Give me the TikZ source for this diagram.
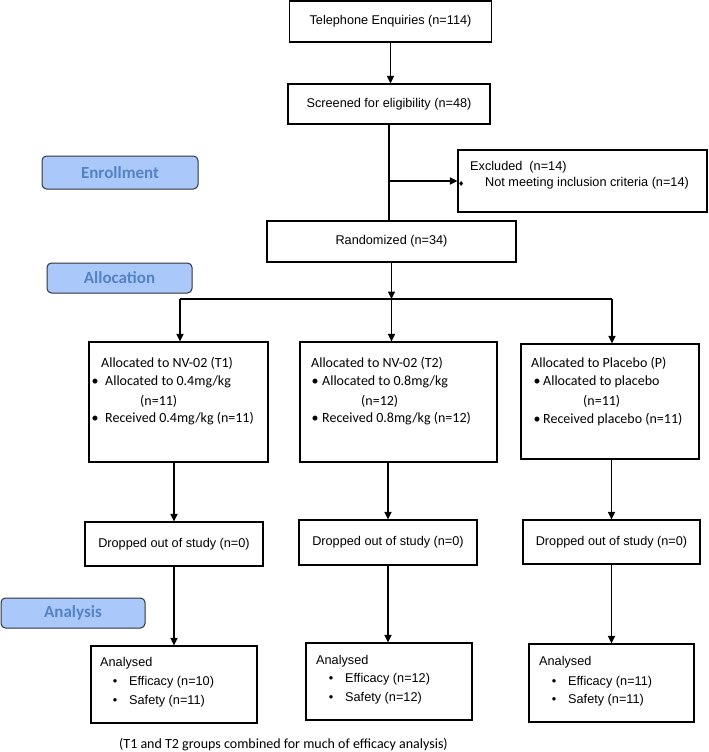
\documentclass[tikz,border=0pt]{standalone}
\usepackage{fontspec}
\setmainfont{Liberation Sans}
\newfontfamily\calfont{Carlito}
\newfontfamily\djfont{DejaVu Sans}
\usetikzlibrary{arrows.meta}
\definecolor{lblfill}{RGB}{170,201,250}
\definecolor{lbltext}{RGB}{84,131,196}
\definecolor{lbldraw}{RGB}{45,50,60}
\newcommand\bu[1]{\llap{\makebox[0pt]{\textbullet}\hspace{#1}}}
\newcommand\dm[1]{\llap{\makebox[0pt]{\djfont\fontsize{7}{7}\selectfont ♦}\hspace{#1}}}
\begin{document}
\begin{tikzpicture}[x=1pt,y=-1pt,
  box/.style={draw, line width=1.1pt, inner sep=0pt, font=\fontsize{12.7}{15}\selectfont},
  arr/.style={line width=1.1pt, -{Triangle[length=7.5pt,width=7pt]}},
  ln/.style={line width=1.1pt},
  ar/.style={font=\fontsize{12.7}{15}\selectfont, inner sep=0pt, anchor=west},
  ca/.style={font=\calfont\fontsize{14}{17}\selectfont, inner sep=0pt, anchor=west},
  stage/.style={draw=lbldraw, fill=lblfill, rounded corners=4.5pt, line width=1pt,
    font=\calfont\bfseries\fontsize{17}{20}\selectfont, text=lbltext, inner sep=0pt}]
\useasboundingbox (0,0) rectangle (709,752);

% stage labels
\node[stage, minimum width=156pt, minimum height=33pt] (en) at (120,172.5) {Enrollment};
\node[stage, minimum width=145pt, minimum height=30pt] (al) at (119.5,278) {Allocation};
\node[stage, minimum width=144pt, minimum height=30pt] (an) at (73,613) {Analysis};

% top chain
\node[box, minimum width=202pt, minimum height=41pt] (tel) at (390.5,21.5) {Telephone Enquiries (n=114)};
\node[box, minimum width=202pt, minimum height=40pt] (scr) at (389,104) {Screened for eligibility (n=48)};
\node[box, minimum width=249pt, minimum height=62pt] (excl) at (582.5,181) {};
\node[box, minimum width=249pt, minimum height=41pt] (rand) at (391.5,241.5) {Randomized (n=34)};

\node[ar] (ex1) at (470,167) {Excluded~~(n=14)};
\node[ar] (ex2) at (485,183) {\dm{24pt}Not meeting inclusion criteria (n=14)};

\draw[arr] (tel.south) -- (tel.south |- scr.north);
\draw[ln] (scr.south) -- (scr.south |- rand.north);
\coordinate (br) at (scr.south |- excl.west);
\draw[arr] (br) -- (excl.west);

% allocation
\node[box, minimum width=179pt, minimum height=120pt] (t1) at (178.5,402) {};
\node[box, minimum width=197pt, minimum height=120pt] (t2) at (398.5,402) {};
\node[box, minimum width=178pt, minimum height=115pt] (p) at (610,401.5) {};

\coordinate (hub) at (391.5,299);
\coordinate (hl) at (180,299);
\coordinate (hr) at (612,299);
\coordinate (tk1) at (374,299);
\coordinate (tk2) at (416,299);
\draw[ln] (hl) -- (hr);
\draw[line width=2.2pt] (tk1) -- (tk2);
\draw[arr] (rand.south) -- (hub);
\draw[arr] (hl) -- (hl |- t1.north);
\draw[arr] (hub) -- (hub |- t2.north);
\draw[arr] (hr) -- (hr |- p.north);

\node[ca] (t1a) at (101,363) {Allocated to NV-02 (T1)};
\node[ca] (t1b) at (105,382) {\bu{10pt}Allocated to 0.4mg/kg};
\node[ca] (t1c) at (140,401) {(n=11)};
\node[ca] (t1d) at (105,419) {\bu{10pt}Received 0.4mg/kg (n=11)};

\node[ca] (t2a) at (311,363) {Allocated to NV-02 (T2)};
\node[ca] (t2b) at (322,382) {\bu{7pt}Allocated to 0.8mg/kg};
\node[ca] (t2c) at (361,401) {(n=12)};
\node[ca] (t2d) at (322,419) {\bu{7pt}Received 0.8mg/kg (n=12)};

\node[ca] (pa) at (531,363) {Allocated to Placebo (P)};
\node[ca] (pb) at (543,382) {\bu{6pt}Allocated to placebo};
\node[ca] (pc) at (583,401) {(n=11)};
\node[ca] (pd) at (543,420) {\bu{6pt}Received placebo (n=11)};

% dropped
\node[box, minimum width=178pt, minimum height=44pt] (d1) at (174,544) {Dropped out of study (n=0)};
\node[box, minimum width=178pt, minimum height=45pt] (d2) at (388,542.5) {Dropped out of study (n=0)};
\node[box, minimum width=177pt, minimum height=44pt] (d3) at (611.5,542) {Dropped out of study (n=0)};

\draw[arr] (t1.south -| d1.north) -- (d1.north);
\draw[arr] (t2.south -| d2.north) -- (d2.north);
\draw[arr] (p.south -| d3.north) -- (d3.north);

% analysed
\node[box, minimum width=166pt, minimum height=77pt] (a1) at (174,684.5) {};
\node[box, minimum width=166pt, minimum height=77pt] (a2) at (389,681.5) {};
\node[box, minimum width=165pt, minimum height=78pt] (a3) at (611.5,683) {};

\draw[arr] (d1.south) -- (d1.south |- a1.north);
\draw[arr] (d2.south) -- (d2.south |- a2.north);
\draw[arr] (d3.south) -- (d3.south |- a3.north);

\node[ar] (a1a) at (100,663) {Analysed};
\node[ar] (a1b) at (129,682) {\bu{14pt}Efficacy (n=10)};
\node[ar] (a1c) at (129,701) {\bu{14pt}Safety (n=11)};

\node[ar] (a2a) at (316,661) {Analysed};
\node[ar] (a2b) at (345,679) {\bu{14pt}Efficacy (n=12)};
\node[ar] (a2c) at (345,698) {\bu{14pt}Safety (n=12)};

\node[ar] (a3a) at (539,662) {Analysed};
\node[ar] (a3b) at (568,682) {\bu{14pt}Efficacy (n=11)};
\node[ar] (a3c) at (568,700) {\bu{14pt}Safety (n=11)};

\node[font=\calfont\fontsize{14}{17}\selectfont, inner sep=0pt] (note) at (283.5,745) {(T1 and T2 groups combined for much of efficacy analysis)};
\end{tikzpicture}
\end{document}
